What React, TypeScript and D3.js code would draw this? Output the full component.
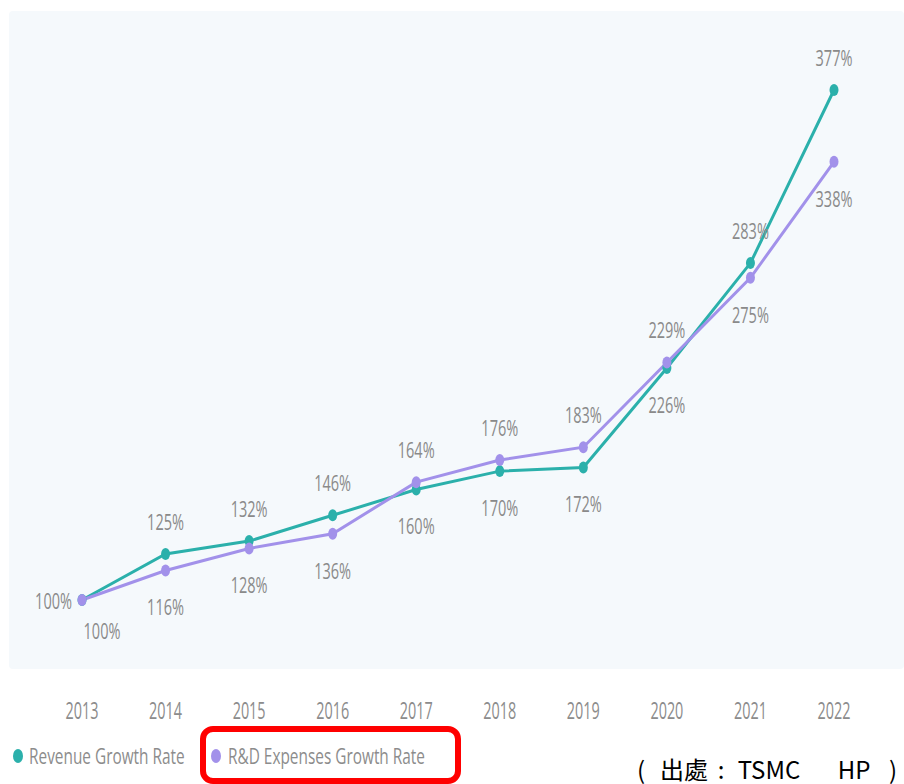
import React from "react";
import * as d3 from "d3";

const years = ["2013", "2014", "2015", "2016", "2017", "2018", "2019", "2020", "2021", "2022"];
const revenueGrowth = [100, 125, 132, 146, 160, 170, 172, 226, 283, 377];
const rdGrowth = [100, 116, 128, 136, 164, 176, 183, 229, 275, 338];
const revenueLabelSide = ["left", "above", "above", "above", "below", "below", "below", "below", "above", "above"];
const rdLabelSide = ["belowRight", "below", "below", "below", "above", "above", "above", "above", "below", "below"];
const seriesNames = ["Revenue Growth Rate", "R&D Expenses Growth Rate"];
const sourceParts = ["(", "出處", ":", "TSMC", "HP", ")"];

const W = 904;
const H = 784;
const TEAL = "#2bb0ab";
const PURPLE = "#a291ea";
const LABEL = "#8a8a8a";
const FONT = "'Open Sans', 'DejaVu Sans', sans-serif";

function CText(props: {
  x: number;
  y: number;
  sx: number;
  size: number;
  anchor?: string;
  fill?: string;
  children: React.ReactNode;
}) {
  const { x, y, sx, size, anchor = "start", fill = LABEL, children } = props;
  return (
    <g transform={`translate(${x},${y}) scale(${sx},1)`}>
      <text
        x={0}
        y={0}
        textAnchor={anchor as any}
        dominantBaseline="central"
        fontFamily={FONT}
        fontSize={size}
        fill={fill}
      >
        {children}
      </text>
    </g>
  );
}

export default function App() {
  const x = d3.scalePoint<string>().domain(years).range([82, 834]);
  const y = d3.scaleLinear().domain([100, 377]).range([600, 90]);

  const line = d3
    .line<number>()
    .x((_, i) => x(years[i]) as number)
    .y((d) => y(d));

  const series = [
    { name: seriesNames[0], values: revenueGrowth, color: TEAL, sides: revenueLabelSide },
    { name: seriesNames[1], values: rdGrowth, color: PURPLE, sides: rdLabelSide },
  ];

  const labelPos = (side: string, px: number, py: number) => {
    switch (side) {
      case "left":
        return { x: px - 10, y: py, anchor: "end" };
      case "belowRight":
        return { x: px + 20, y: py + 30, anchor: "middle" };
      case "above":
        return { x: px, y: py - 33, anchor: "middle" };
      default:
        return { x: px, y: py + 36, anchor: "middle" };
    }
  };

  const sourceX = [641, 684, 721, 769, 854, 893];

  return (
    <svg
      width={W}
      height={H}
      style={{ position: "absolute", left: 0, top: 0, background: "#ffffff" }}
    >
      <rect x={9} y={11} width={W - 9} height={658} fill="#f5f9fc" rx={4} />

      {series.map((s) => (
        <path key={s.name} d={line(s.values) || ""} fill="none" stroke={s.color} strokeWidth={3} />
      ))}
      {series.map((s) =>
        s.values.map((v, i) => (
          <ellipse
            key={s.name + i}
            cx={x(years[i]) as number}
            cy={y(v)}
            rx={4.5}
            ry={6}
            fill={s.color}
          />
        ))
      )}
      {series.map((s) =>
        s.values.map((v, i) => {
          const p = labelPos(s.sides[i], x(years[i]) as number, y(v));
          return (
            <CText key={"l" + s.name + i} x={p.x} y={p.y} sx={0.66} size={22} anchor={p.anchor}>
              {v}%
            </CText>
          );
        })
      )}

      {years.map((yr) => (
        <CText key={yr} x={x(yr) as number} y={710} sx={0.6} size={24} anchor="middle" fill="#8c8c8c">
          {yr}
        </CText>
      ))}

      <ellipse cx={18} cy={756} rx={5} ry={7} fill={TEAL} />
      <CText x={29} y={756} sx={0.7} size={22} fill="#8c8c8c">
        {seriesNames[0]}
      </CText>
      <ellipse cx={216} cy={756} rx={5} ry={7} fill={PURPLE} />
      <CText x={228} y={756} sx={0.7} size={22} fill="#8c8c8c">
        {seriesNames[1]}
      </CText>

      <rect x={203} y={729} width={255} height={52} rx={10} fill="none" stroke="#ff0000" strokeWidth={6} />

      {sourceParts.map((t, i) => (
        <text
          key={"s" + i}
          x={sourceX[i]}
          y={768}
          textAnchor="middle"
          dominantBaseline="central"
          fontFamily="'Noto Sans CJK TC', 'Noto Sans', sans-serif"
          fontSize={24}
          fill="#000"
        >
          {t}
        </text>
      ))}
    </svg>
  );
}
